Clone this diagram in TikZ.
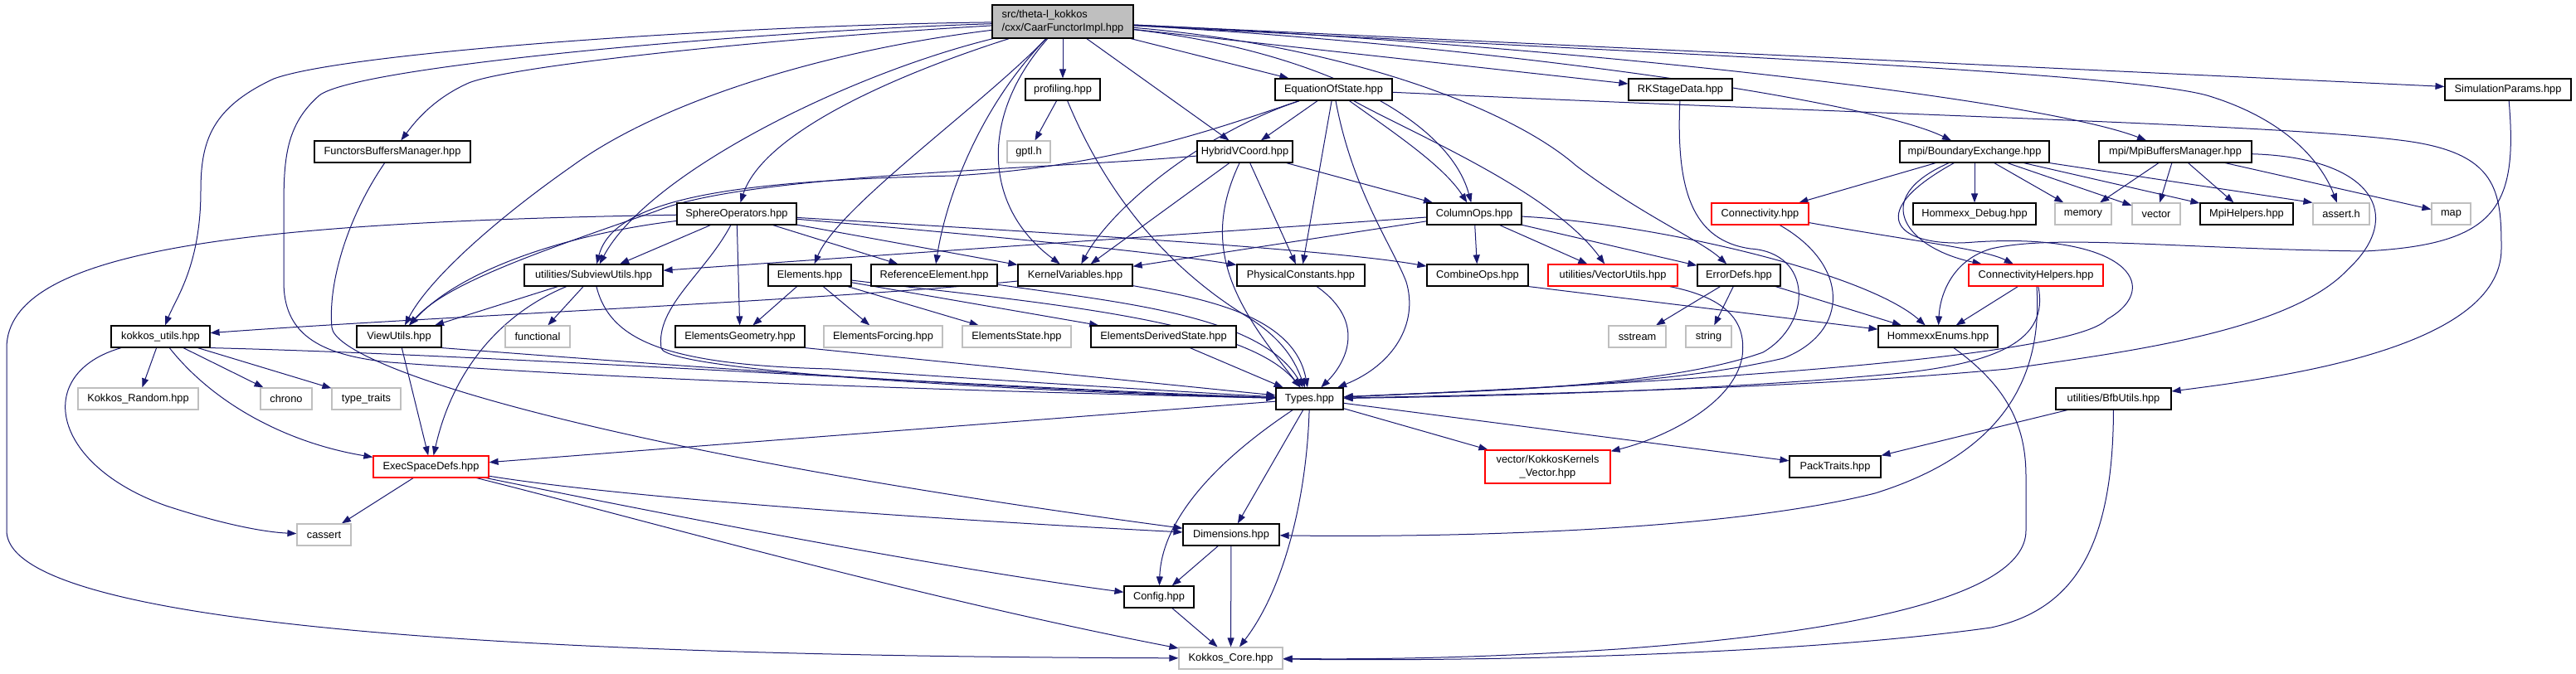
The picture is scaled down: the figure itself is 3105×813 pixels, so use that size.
\documentclass[tikz,border=0pt]{standalone}
\usepackage{fontspec}
\setmainfont{Liberation Sans}
\usetikzlibrary{arrows.meta,backgrounds}
\definecolor{edgeblue}{HTML}{191970}
\definecolor{lgray}{HTML}{BFBFBF}
\definecolor{rootfill}{HTML}{BFBFBF}
\newcommand\nodefont{\fontsize{12.8}{16}\selectfont}
\begin{document}
\begin{tikzpicture}[x=1pt,y=-1pt,
  nbase/.style={rectangle, inner sep=0pt, minimum height=26pt, line width=1.2pt, fill=white, font=\nodefont, text=black},
  nb/.style={nbase, draw=black},
  ng/.style={nbase, draw=lgray},
  nr/.style={nbase, draw=red},
  wd/.style={minimum width=#1pt},
  lnk/.style={draw=edgeblue, line width=1pt, -{Triangle[length=11pt,width=8pt]}}]
\useasboundingbox (0,0) rectangle (3105,813);
% nodes
\node[nb, wd=170, minimum height=40pt, fill=rootfill, align=left] (root) at (1281,26) {src/theta-l\_kokkos\\/cxx/CaarFunctorImpl.hpp};
\node[nb, wd=90] (prof) at (1281,108) {profiling.hpp};
\node[nb, wd=141] (eos) at (1607.5,108) {EquationOfState.hpp};
\node[nb, wd=125] (rk) at (2025.5,108) {RKStageData.hpp};
\node[nb, wd=152] (simp) at (3023,108) {SimulationParams.hpp};
\node[nb, wd=188] (fbm) at (473,183) {FunctorsBuffersManager.hpp};
\node[ng, wd=52] (gptl) at (1240,183) {gptl.h};
\node[nb, wd=115] (hvc) at (1500.5,183) {HybridVCoord.hpp};
\node[nb, wd=180] (bex) at (2380,183) {mpi/BoundaryExchange.hpp};
\node[nb, wd=184] (mbm) at (2622,183) {mpi/MpiBuffersManager.hpp};
\node[nb, wd=144] (sph) at (888,258) {SphereOperators.hpp};
\node[nb, wd=114] (colops) at (1777,258) {ColumnOps.hpp};
\node[nr, wd=117] (conn) at (2121.5,258) {Connectivity.hpp};
\node[nb, wd=148] (hdebug) at (2380,258) {Hommexx\_Debug.hpp};
\node[ng, wd=68] (memory) at (2511,258) {memory};
\node[ng, wd=58] (vector) at (2599,258) {vector};
\node[nb, wd=112] (mpihelp) at (2708,258) {MpiHelpers.hpp};
\node[ng, wd=68] (asserth) at (2822,258) {assert.h};
\node[ng, wd=47] (map) at (2954.5,258) {map};
\node[nb, wd=167] (subv) at (715.5,332) {utilities/SubviewUtils.hpp};
\node[nb, wd=100] (elem) at (976,332) {Elements.hpp};
\node[nb, wd=152] (refel) at (1126,332) {ReferenceElement.hpp};
\node[nb, wd=138] (kvar) at (1296,332) {KernelVariables.hpp};
\node[nb, wd=154] (phys) at (1568,332) {PhysicalConstants.hpp};
\node[nb, wd=122] (comb) at (1781,332) {CombineOps.hpp};
\node[nr, wd=156] (vecu) at (1944,332) {utilities/VectorUtils.hpp};
\node[nb, wd=100] (errd) at (2096,332) {ErrorDefs.hpp};
\node[nr, wd=162] (conh) at (2454,332) {ConnectivityHelpers.hpp};
\node[nb, wd=119] (kutils) at (193.5,406) {kokkos\_utils.hpp};
\node[nb, wd=102] (viewu) at (481,406) {ViewUtils.hpp};
\node[ng, wd=78] (func) at (648,406) {functional};
\node[nb, wd=156] (egeo) at (892,406) {ElementsGeometry.hpp};
\node[ng, wd=143] (eforc) at (1064.5,406) {ElementsForcing.hpp};
\node[ng, wd=131] (estate) at (1225.5,406) {ElementsState.hpp};
\node[nb, wd=175] (eder) at (1402.5,406) {ElementsDerivedState.hpp};
\node[ng, wd=69] (sstream) at (1973.5,406) {sstream};
\node[ng, wd=55] (string) at (2059.5,406) {string};
\node[nb, wd=144] (henum) at (2336,406) {HommexxEnums.hpp};
\node[ng, wd=145] (krand) at (166.5,481) {Kokkos\_Random.hpp};
\node[ng, wd=62] (chrono) at (345,481) {chrono};
\node[ng, wd=83] (ttraits) at (441.5,481) {type\_traits};
\node[nb, wd=81] (types) at (1578.5,481) {Types.hpp};
\node[nb, wd=139] (bfb) at (2547.5,481) {utilities/BfbUtils.hpp};
\node[nr, wd=139] (exec) at (519.5,563) {ExecSpaceDefs.hpp};
\node[nr, wd=151, minimum height=40pt, align=center] (kkvec) at (1865.5,563) {vector/KokkosKernels\\\_Vector.hpp};
\node[nb, wd=110] (pack) at (2212,563) {PackTraits.hpp};
\node[ng, wd=65] (cassert) at (390.5,645) {cassert};
\node[nb, wd=116] (dims) at (1484,645) {Dimensions.hpp};
\node[nb, wd=84] (config) at (1397,720) {Config.hpp};
\node[ng, wd=125] (kcore) at (1483.5,794) {Kokkos\_Core.hpp};
% edges
\begin{pgfonlayer}{background}
\fill[white] (0,0) rectangle (3105,813);
% root
\draw[lnk] (root) .. controls (900,30) and (420,62) .. (330,95) .. controls (255,130) and (242,170) .. (242,230) .. controls (242,320) and (212,360) .. (kutils);
\draw[lnk] (root) .. controls (900,38) and (430,80) .. (385,115) .. controls (345,150) and (342,190) .. (342,250) -- (342,340) .. controls (342,400) and (380,428) .. (470,437) .. controls (800,462) and (1300,475) .. (types);
\draw[lnk] (root) .. controls (950,45) and (620,78) .. (565,100) .. controls (520,120) and (498,150) .. (fbm);
\draw[lnk] (root) .. controls (1000,60) and (800,120) .. (690,200) .. controls (590,270) and (515,340) .. (viewu);
\draw[lnk] (root) .. controls (1020,90) and (780,210) .. (subv);
\draw[lnk] (root) .. controls (1080,90) and (920,160) .. (sph);
\draw[lnk] (root) .. controls (1180,130) and (1010,250) .. (elem);
\draw[lnk] (root) .. controls (1180,130) and (1140,240) .. (refel);
\draw[lnk] (root) .. controls (1180,140) and (1185,250) .. (kvar);
\draw[lnk] (root) -- (prof);
\draw[lnk] (root) -- (hvc);
\draw[lnk] (root) -- (eos);
\draw[lnk] (root) -- (rk);
\draw[lnk] (root) .. controls (1580,60) and (1745,140) .. (colops);
\draw[lnk] (root) .. controls (1620,55) and (1820,130) .. (1900,200) .. controls (1980,260) and (2050,290) .. (errd);
\draw[lnk] (root) .. controls (1800,55) and (2250,120) .. (bex);
\draw[lnk] (root) .. controls (1900,55) and (2460,120) .. (mbm);
\draw[lnk] (root) .. controls (1900,60) and (2550,85) .. (2660,115) .. controls (2760,145) and (2800,200) .. (asserth);
\draw[lnk] (root) -- (simp);
% eos
\draw[lnk] (eos) -- (hvc);
\draw[lnk] (eos) .. controls (1450,160) and (1340,250) .. (kvar);
\draw[lnk] (eos) .. controls (1480,150) and (1350,200) .. (1150,212) .. controls (880,218) and (740,240) .. (subv);
\draw[lnk] (eos) .. controls (1680,160) and (1740,200) .. (colops);
\draw[lnk] (eos) -- (phys);
\draw[lnk] (eos) .. controls (1630,230) and (1680,300) .. (1695,340) .. controls (1710,390) and (1680,440) .. (types);
\draw[lnk] (eos) .. controls (1700,160) and (1870,230) .. (vecu);
\draw[lnk] (eos) .. controls (2300,140) and (2750,150) .. (2900,170) .. controls (3010,185) and (3015,230) .. (3015,300) .. controls (3015,420) and (2750,455) .. (bfb);
% hvc
\draw[lnk] (hvc) .. controls (1250,205) and (900,210) .. (790,255) .. controls (630,310) and (535,345) .. (viewu);
\draw[lnk] (hvc) -- (kvar);
\draw[lnk] (hvc) -- (phys);
\draw[lnk] (hvc) -- (colops);
\draw[lnk] (hvc) .. controls (1445,300) and (1490,370) .. (types);
% sph
\draw[lnk] (sph) -- (subv);
\draw[lnk] (sph) .. controls (700,280) and (560,320) .. (viewu);
\draw[lnk] (sph) .. controls (300,268) and (8,300) .. (8,420) -- (8,640) .. controls (8,770) and (800,792) .. (kcore);
\draw[lnk] (sph) .. controls (850,330) and (790,370) .. (797,420) .. controls (805,450) and (1300,475) .. (types);
\draw[lnk] (sph) -- (egeo);
\draw[lnk] (sph) -- (refel);
\draw[lnk] (sph) -- (kvar);
\draw[lnk] (sph) .. controls (1200,285) and (1400,305) .. (phys);
\draw[lnk] (sph) .. controls (1250,280) and (1600,300) .. (comb);
% kvar
\draw[lnk] (kvar) .. controls (1000,362) and (520,382) .. (kutils);
\draw[lnk] (kvar) .. controls (1450,360) and (1560,380) .. (types);
% elements
\draw[lnk] (elem) -- (egeo);
\draw[lnk] (elem) -- (eforc);
\draw[lnk] (elem) -- (estate);
\draw[lnk] (elem) -- (eder);
\draw[lnk] (elem) .. controls (1250,365) and (1500,385) .. (types);
\draw[lnk] (refel) .. controls (1350,365) and (1520,380) .. (types);
\draw[lnk] (eder) -- (types);
\draw[lnk] (egeo.south east) -- (types);
\draw[lnk] (phys) .. controls (1650,390) and (1620,440) .. (types);
% colops
\draw[lnk] (colops) -- (subv);
\draw[lnk] (colops) -- (kvar);
\draw[lnk] (colops) -- (comb);
\draw[lnk] (colops) -- (vecu);
\draw[lnk] (colops) -- (errd);
\draw[lnk] (colops) .. controls (2000,270) and (2250,330) .. (henum);
\draw[lnk] (comb.south east) -- (henum);
\draw[lnk] (vecu) .. controls (2085,360) and (2105,390) .. (2100,430) .. controls (2090,490) and (2000,530) .. (kkvec);
\draw[lnk] (errd) -- (sstream);
\draw[lnk] (errd) -- (string);
\draw[lnk] (errd) -- (henum);
% rk
\draw[lnk] (rk) .. controls (2020,230) and (2040,290) .. (2110,300) .. controls (2185,305) and (2185,390) .. (2125,425) .. controls (2000,470) and (1750,472) .. (types);
% conn
\draw[lnk] (conn) .. controls (2300,290) and (2390,300) .. (conh);
\draw[lnk] (conn) .. controls (2230,320) and (2230,400) .. (2150,432) .. controls (2000,468) and (1750,472) .. (types);
% bex
\draw[lnk] (bex) -- (conn);
\draw[lnk] (bex) .. controls (2250,240) and (2300,300) .. (conh);
\draw[lnk] (bex) -- (hdebug);
\draw[lnk] (bex) -- (memory);
\draw[lnk] (bex) -- (vector);
\draw[lnk] (bex) -- (mpihelp);
\draw[lnk] (bex.south east) -- (asserth.north west);
\draw[lnk] (bex) .. controls (2240,260) and (2290,300) .. (2380,292) .. controls (2560,280) and (2610,345) .. (2540,385) .. controls (2490,440) and (1850,468) .. (types);
% mbm
\draw[lnk] (mbm) -- (memory);
\draw[lnk] (mbm) -- (vector);
\draw[lnk] (mbm) -- (mpihelp);
\draw[lnk] (mbm) -- (map);
\draw[lnk] (mbm) .. controls (2860,190) and (2900,260) .. (2830,325) .. controls (2760,400) and (2560,425) .. (2420,445) .. controls (2150,470) and (1850,475) .. (types);
% simp
\draw[lnk] (simp) .. controls (3035,250) and (3010,295) .. (2850,303) .. controls (2620,300) and (2480,282) .. (2400,300) .. controls (2350,315) and (2338,360) .. (henum);
% conh
\draw[lnk] (conh) -- (henum);
\draw[lnk] (conh) .. controls (2462,450) and (2420,545) .. (2260,595) .. controls (2060,645) and (1700,648) .. (dims);
\draw[lnk] (conh) .. controls (2470,410) and (2410,440) .. (2270,452) .. controls (2050,472) and (1800,478) .. (types);
% henum, bfb
\draw[lnk] (henum) .. controls (2425,470) and (2442,520) .. (2442,575) -- (2442,640) .. controls (2442,725) and (2200,765) .. (1950,783) .. controls (1750,796) and (1620,795) .. (kcore);
\draw[lnk] (bfb) .. controls (2547,660) and (2500,735) .. (2400,757) .. controls (2150,792) and (1750,798) .. (kcore);
\draw[lnk] (bfb) -- (pack);
% types
\draw[lnk] (types) -- (exec);
\draw[lnk] (types) -- (kkvec);
\draw[lnk] (types) -- (pack);
\draw[lnk] (types) -- (dims);
\draw[lnk] (types) .. controls (1460,560) and (1400,630) .. (config);
\draw[lnk] (types) .. controls (1575,600) and (1548,710) .. (kcore);
\draw[lnk] (dims) -- (config);
\draw[lnk] (dims) -- (kcore);
\draw[lnk] (config) -- (kcore);
% exec
\draw[lnk] (exec) -- (cassert);
\draw[lnk] (exec) .. controls (750,600) and (1100,625) .. (dims);
\draw[lnk] (exec) .. controls (750,610) and (1100,680) .. (config);
\draw[lnk] (exec) .. controls (750,620) and (1100,720) .. (kcore);
% kutils
\draw[lnk] (kutils) -- (krand);
\draw[lnk] (kutils) -- (chrono);
\draw[lnk] (kutils) -- (ttraits);
\draw[lnk] (kutils) .. controls (260,490) and (350,535) .. (exec);
\draw[lnk] (kutils) .. controls (40,450) and (60,560) .. (200,610) .. controls (270,633) and (320,642) .. (cassert);
\draw[lnk] (kutils.south east) .. controls (600,428) and (1200,468) .. (types);
% viewu
\draw[lnk] (viewu) -- (exec);
\draw[lnk] (viewu.south east) .. controls (800,440) and (1200,470) .. (types);
% subv
\draw[lnk] (subv) -- (viewu);
\draw[lnk] (subv) -- (func);
\draw[lnk] (subv) .. controls (600,380) and (545,450) .. (exec);
\draw[lnk] (subv) .. controls (735,410) and (800,440) .. (1000,445) .. controls (1250,462) and (1450,474) .. (types);
% fbm
\draw[lnk] (fbm) .. controls (420,260) and (395,340) .. (400,395) .. controls (405,440) and (700,540) .. (dims);
% prof
\draw[lnk] (prof) -- (gptl);
\draw[lnk] (prof) .. controls (1340,250) and (1420,330) .. (1500,380) .. controls (1550,410) and (1562,440) .. (types);
\end{pgfonlayer}
\end{tikzpicture}
\end{document}
